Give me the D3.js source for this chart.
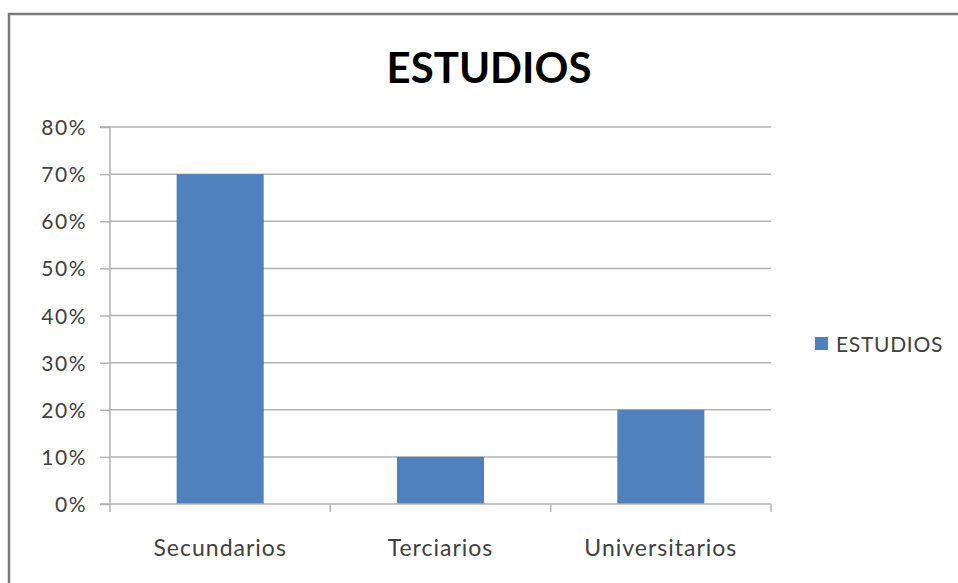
<!DOCTYPE html>
<html>
<head>
<meta charset="utf-8">
<script src="https://cdn.jsdelivr.net/npm/d3@7"></script>
<style>
  html, body { margin: 0; padding: 0; background: #fff; }
  svg { display: block; font-family: Lato, "Open Sans", sans-serif; }
</style>
</head>
<body>
<svg id="chart" width="958" height="583"></svg>
<script>
// Nivel de estudios alcanzado
const categories = ["Secundarios", "Terciarios", "Universitarios"];
const values = [0.70, 0.10, 0.20];
const yTicks = [0, 0.1, 0.2, 0.3, 0.4, 0.5, 0.6, 0.7, 0.8];
const seriesName = "ESTUDIOS";
const chartTitle = "ESTUDIOS";

const svg = d3.select("#chart");
const W = 958, H = 583;
const plot = { left: 110, right: 771, top: 127, bottom: 504 };
const barColor = "#4f81bd";
const gridColor = "#b3b3b3";
const textColor = "#404040";

// Chart frame
svg.append("rect").attr("width", W).attr("height", H).attr("fill", "#fff");
svg.append("path")
  .attr("d", `M9,${H} L9,14 L${W},14`)
  .attr("fill", "none").attr("stroke", "#7a7a7a").attr("stroke-width", 2.5);

const x = d3.scaleBand().domain(categories).range([plot.left, plot.right]).paddingInner(0.605).paddingOuter(0.3025);
const y = d3.scaleLinear().domain([0, 0.8]).range([plot.bottom, plot.top]);

// Horizontal gridlines
svg.append("g").selectAll("line").data(yTicks.slice(1)).join("line")
  .attr("x1", plot.left).attr("x2", plot.right)
  .attr("y1", d => y(d)).attr("y2", d => y(d))
  .attr("stroke", gridColor).attr("stroke-width", 1.5);

// Y axis
const yAxis = d3.axisLeft(y).tickValues(yTicks).tickFormat(d3.format(".0%")).tickSize(10).tickPadding(13);
const gy = svg.append("g").attr("transform", `translate(${plot.left},0)`).call(yAxis);
gy.select(".domain").attr("stroke", gridColor).attr("stroke-width", 1.5).attr("d", `M-10,${plot.top}H0V${plot.bottom}H-10`);
gy.selectAll(".tick line").attr("stroke", gridColor).attr("stroke-width", 1.5);
gy.selectAll(".tick text").attr("fill", textColor)
  .style("font-size", "21px").style("font-family", "Lato, sans-serif")
  .style("letter-spacing", "1.5px").attr("dy", "0.36em");

// Bars
svg.append("g").selectAll("rect").data(values).join("rect")
  .attr("x", (d, i) => x(categories[i]))
  .attr("width", x.bandwidth())
  .attr("y", d => y(d))
  .attr("height", d => y(0) - y(d))
  .attr("fill", barColor);

// X axis baseline and category dividers
const step = (plot.right - plot.left) / categories.length;
const gx = svg.append("g");
gx.append("line").attr("x1", plot.left).attr("x2", plot.right)
  .attr("y1", plot.bottom).attr("y2", plot.bottom)
  .attr("stroke", gridColor).attr("stroke-width", 1.5);
gx.selectAll("line.div").data(d3.range(categories.length + 1)).join("line")
  .attr("class", "div")
  .attr("x1", i => plot.left + i * step).attr("x2", i => plot.left + i * step)
  .attr("y1", plot.bottom).attr("y2", plot.bottom + 8)
  .attr("stroke", gridColor).attr("stroke-width", 1.5);
gx.selectAll("text").data(categories).join("text")
  .attr("x", d => x(d) + x.bandwidth() / 2)
  .attr("y", 556)
  .attr("text-anchor", "middle")
  .attr("fill", textColor)
  .style("font-size", "23px").style("letter-spacing", "1px")
  .text(d => d);

// Title
svg.append("text")
  .attr("x", 489).attr("y", 83)
  .attr("text-anchor", "middle")
  .attr("fill", "#000")
  .style("font-size", "42px").style("font-weight", "bold")
  .text(chartTitle);

// Legend
const lg = svg.append("g");
lg.append("rect").attr("x", 815).attr("y", 337).attr("width", 13).attr("height", 13).attr("fill", barColor);
lg.append("text").attr("x", 836).attr("y", 352)
  .attr("fill", textColor).style("font-size", "21px").style("letter-spacing", "0.7px")
  .text(seriesName);
</script>
</body>
</html>
